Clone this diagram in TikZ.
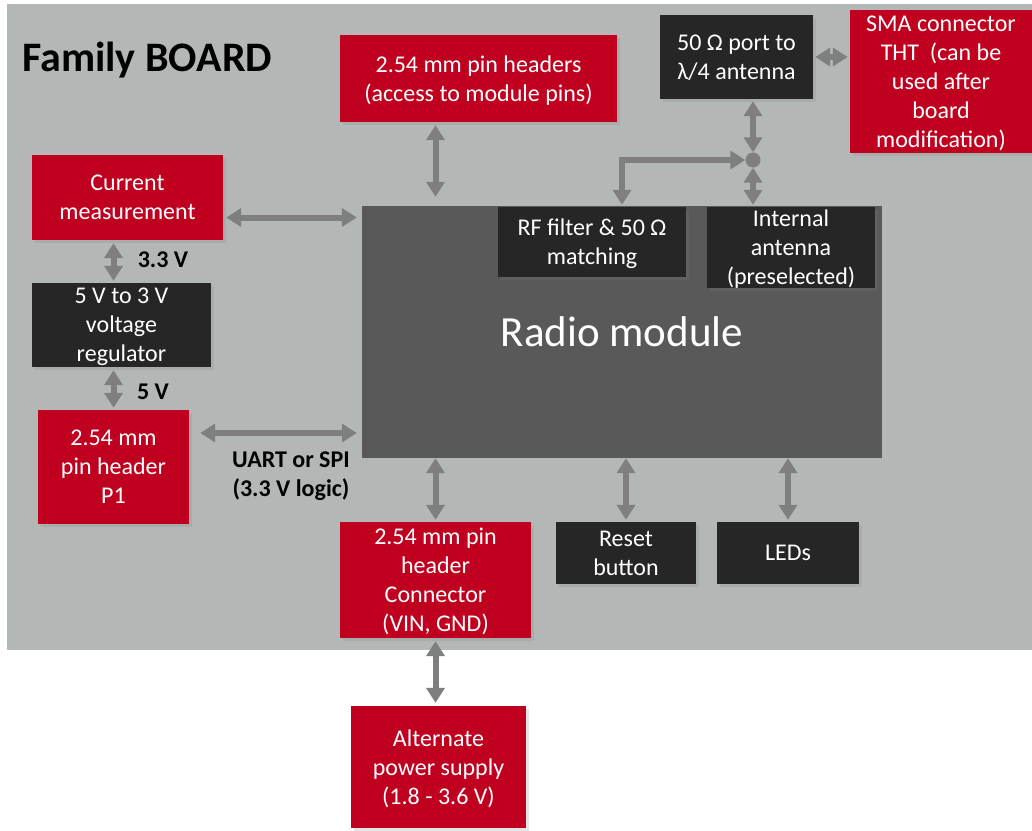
\documentclass[tikz,border=0pt]{standalone}
\usepackage{fontspec}
\setmainfont{Carlito}
\usetikzlibrary{arrows.meta,shadows}
\definecolor{boardgray}{HTML}{B3B8B6}
\definecolor{boxred}{HTML}{C0001F}
\definecolor{boxdark}{HTML}{262626}
\definecolor{modgray}{HTML}{595959}
\definecolor{linkgray}{HTML}{7F7F7F}

\begin{document}
\begin{tikzpicture}[x=1pt, y=-1pt,
  every node/.style={align=center, inner sep=0pt,
    font=\fontsize{24}{29}\selectfont},
  redbox/.style={rectangle, fill=boxred, text=white, text depth=0pt,
    drop shadow={shadow xshift=3pt, shadow yshift=-3pt, opacity=0.2}},
  darkbox/.style={rectangle, fill=boxdark, text=white, text depth=0pt,
    drop shadow={shadow xshift=3pt, shadow yshift=-3pt, opacity=0.2}},
  tag/.style={font=\fontsize{24}{29}\selectfont\bfseries},
  link/.style={draw=linkgray, line width=6pt,
    {Triangle[length=15pt,width=18pt]}-{Triangle[length=15pt,width=18pt]}}]
  \useasboundingbox (0,0) rectangle (1032,830);
  \fill[white] (0,0) rectangle (1032,830);
  \fill[boardgray] (7,4) rectangle (1032,650);

  \node[anchor=west, font=\fontsize{42}{48}\selectfont\bfseries] (title)
    at (22,60) {Family BOARD};

  % radio module and its parts
  \node[rectangle, fill=modgray, text=white, minimum width=520pt,
    minimum height=252pt, font=\fontsize{43}{50}\selectfont] (radio)
    at (622,332) {Radio module};
  \node[darkbox, minimum width=188pt, minimum height=70pt] (rf)
    at (592,242) {RF filter \& 50 Ω\\matching};
  \node[darkbox, minimum width=168pt, minimum height=81pt] (ant)
    at (791,247.5) {Internal\\antenna\\(preselected)};

  % boxes
  \node[redbox, minimum width=277pt, minimum height=87pt] (pinhdr)
    at (478.5,78.5) {2.54 mm pin headers\\(access to module pins)};
  \node[darkbox, minimum width=153pt, minimum height=84pt] (port)
    at (736.5,57) {50 Ω port to\\λ/4 antenna};
  \node[redbox, minimum width=182pt, minimum height=143pt] (sma)
    at (941,81.5) {SMA connector\\THT~~(can be\\used after\\board\\modification)};
  \node[redbox, minimum width=191pt, minimum height=85pt] (current)
    at (127.5,197.5) {Current\\measurement};
  \node[darkbox, minimum width=179pt, minimum height=84pt] (reg)
    at (121.5,325) {5 V to 3 V\\voltage\\regulator};
  \node[redbox, minimum width=151pt, minimum height=114pt] (p1)
    at (113.5,467) {2.54 mm\\pin header\\P1};
  \node[redbox, minimum width=191pt, minimum height=116pt] (conn)
    at (435.5,580) {2.54 mm pin\\header\\Connector\\(VIN, GND)};
  \node[darkbox, minimum width=140pt, minimum height=62pt] (reset)
    at (626,553) {Reset\\button};
  \node[darkbox, minimum width=142pt, minimum height=62pt] (leds)
    at (788,553) {LEDs};
  \node[redbox, minimum width=175pt, minimum height=122pt] (alt)
    at (438.5,767) {Alternate\\power supply\\(1.8 - 3.6 V)};

  % antenna switch point
  \node[circle, fill=linkgray, minimum size=15pt] (tap) at (753,160) {};

  % labels
  \node[tag] (v33) at (163,260) {3.3 V};
  \node[tag] (v5) at (153,392) {5 V};
  \node[tag] (bus) at (291,476) {UART or SPI\\(3.3 V logic)};

  % connections
  \draw[link, shorten <=3pt, shorten >=9pt] (conn.north |- pinhdr.south)
    -- (conn.north |- radio.north);
  \draw[link, shorten <=3pt, shorten >=5pt] ([yshift=-20pt]current.east)
    -- ([yshift=-20pt]current.east -| radio.west);
  \draw[link, shorten <=3pt, shorten >=2pt] (current.south -| p1.north)
    -- (reg.north -| p1.north);
  \draw[link, shorten <=3pt, shorten >=2pt] (reg.south -| p1.north)
    -- (p1.north);
  \draw[link, shorten <=11pt, shorten >=5pt] ([yshift=34pt]p1.east)
    -- ([yshift=34pt]p1.east -| radio.west);
  \draw[link, shorten >=2pt] (conn.north |- radio.south) -- (conn.north);
  \draw[link, shorten >=2pt] (reset.north |- radio.south) -- (reset.north);
  \draw[link, shorten >=2pt] (leds.north |- radio.south) -- (leds.north);
  \draw[link, shorten <=3pt, shorten >=3pt] (conn.south) -- (conn.south |- alt.north);
  \draw[link, shorten <=2pt] (port.south -| tap) -- (tap.north);
  \draw[link, shorten >=2pt] (tap.south) -- (tap |- ant.north);
  \draw[link, shorten >=2pt] (tap.west) -| ([xshift=30pt]rf.north);
  \draw[link, shorten <=2pt, shorten >=2pt] (port.east) -- (port.east -| sma.west);
\end{tikzpicture}
\end{document}
